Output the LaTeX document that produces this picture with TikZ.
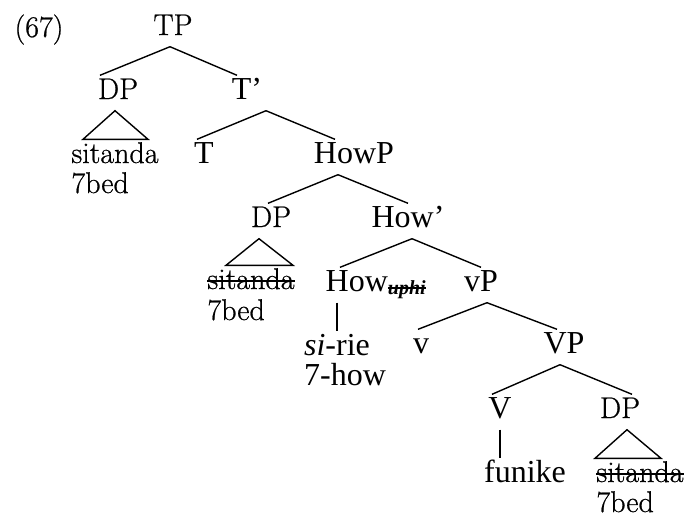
\documentclass[tikz,border=0pt]{standalone}
\usepackage{fontspec}
\setmainfont{Liberation Serif}
\newfontfamily\lmfam{Latin Modern Roman}[FakeBold=0.7]
\usepackage{tikz}
\usetikzlibrary{positioning}

\newcommand{\tnr}{\fontsize{16}{19}\selectfont\rmfamily}
\newcommand{\lmr}{\fontsize{15}{18}\selectfont\lmfam}
% struck-out copy of a word
\newlength{\strikewd}
\newcommand{\strike}[1]{\settowidth{\strikewd}{#1}%
  \rlap{\rule[0.25em]{\strikewd}{0.9pt}}#1}

\begin{document}
\begin{tikzpicture}[
  x=0.5pt, y=-0.5pt,
  line width=0.7pt,
  cat/.style={inner sep=0pt, text height=11.5pt, text depth=5.5pt,
              anchor=base, font=\tnr},
  lm/.style={font=\lmr},
  gloss/.style={inner sep=0pt, anchor=base west, font=\tnr},
]
\useasboundingbox (0,0) rectangle (691,516);

%% ---------- labels --------------------------------------------
\node[cat, lm] (ex)   at (39,37)   {(67)};
\node[cat, lm] (tp)   at (173,35)  {TP};
\node[cat, lm] (dpa)  at (118,99)  {DP};
\node[cat]     (tbar) at (247,99)  {T’};
\node[cat, lm] (sita) at (115,163) {sitanda};
\node[gloss, lm, below=15pt of sita.base west, anchor=base west] (beda) {7bed};
\node[cat]     (t)    at (204,163) {T};
\node[cat]     (howp) at (354,163) {HowP};

\node[cat, lm] (dpb)    at (271,227) {DP};
\node[cat]     (howbar) at (408,227) {How’};
\node[cat, lm] (sitb)   at (251,289) {\strike{sitanda}};
\node[gloss, lm, below=15.5pt of sitb.base west, anchor=base west] (bedb) {7bed};

\node[cat, anchor=base west] (how) at (325,291)
      {How\raisebox{-1.5pt}{\fontsize{10}{12}\selectfont\bfseries\itshape\strike{uphi}}};
\node[cat]   (vsp)   at (481,291) {vP};
\node[cat]   (sirie) at (337,355) {\textit{si}-rie};
\node[gloss, below=15pt of sirie.base west, anchor=base west] (howgl) {7-how};
\node[cat]   (v)     at (421,353) {v};
\node[cat]   (bvp)   at (564,353) {VP};

\node[cat]     (bv)     at (500,418) {V};
\node[cat, lm] (dpc)    at (620,418) {DP};
\node[cat]     (funike) at (525,482) {funike};
\node[cat, lm] (sitc)   at (640,482) {\strike{sitanda}};
\node[gloss, lm, below=15pt of sitc.base west, anchor=base west] (bedc) {7bed};

%% ---------- branches ------------------------------------------
\draw ([xshift=-1.5pt]tp.south) -- ([xshift=-9pt]dpa.north);
\draw ([xshift=-1.5pt]tp.south) -- ([xshift=-5pt]tbar.north);

\draw ([xshift=9.5pt]tbar.south) -- ([xshift=-3.5pt]t.north);
\draw ([xshift=9.5pt]tbar.south) -- ([xshift=-9.5pt]howp.north);

\draw ([xshift=-8pt]howp.south) -- ([xshift=-1.5pt]dpb.north);
\draw ([xshift=-8pt]howp.south) -- (howbar.north);

\draw ([xshift=2pt]howbar.south) -- ([xshift=7.5pt]how.north west);
\draw ([xshift=2pt]howbar.south) -- (vsp.north);

\draw ([xshift=3pt]vsp.south) -- ([xshift=-1.5pt]v.north);
\draw ([xshift=3pt]vsp.south) -- ([xshift=-3.5pt]bvp.north);

\draw ([xshift=-2pt]bvp.south) -- ([xshift=-4pt]bv.north);
\draw ([xshift=-2pt]bvp.south) -- ([xshift=6pt]dpc.north);

%% heads down to their words
\draw (sirie.north |- how.south) -- (sirie.north);
\draw (bv.south) -- (bv.south |- funike.north);

%% roofs over the DPs
\draw ([xshift=-1.5pt]dpa.south) -- ([xshift=-16pt]sita.north)
      -- ([xshift=16.5pt]sita.north) -- cycle;
\draw ([xshift=-6pt]dpb.south) -- ([xshift=-12.5pt]sitb.north)
      -- ([xshift=21pt]sitb.north) -- cycle;
\draw ([xshift=3.5pt]dpc.south) -- ([xshift=-22.5pt]sitc.north)
      -- ([xshift=10.5pt]sitc.north) -- cycle;
\end{tikzpicture}
\end{document}
